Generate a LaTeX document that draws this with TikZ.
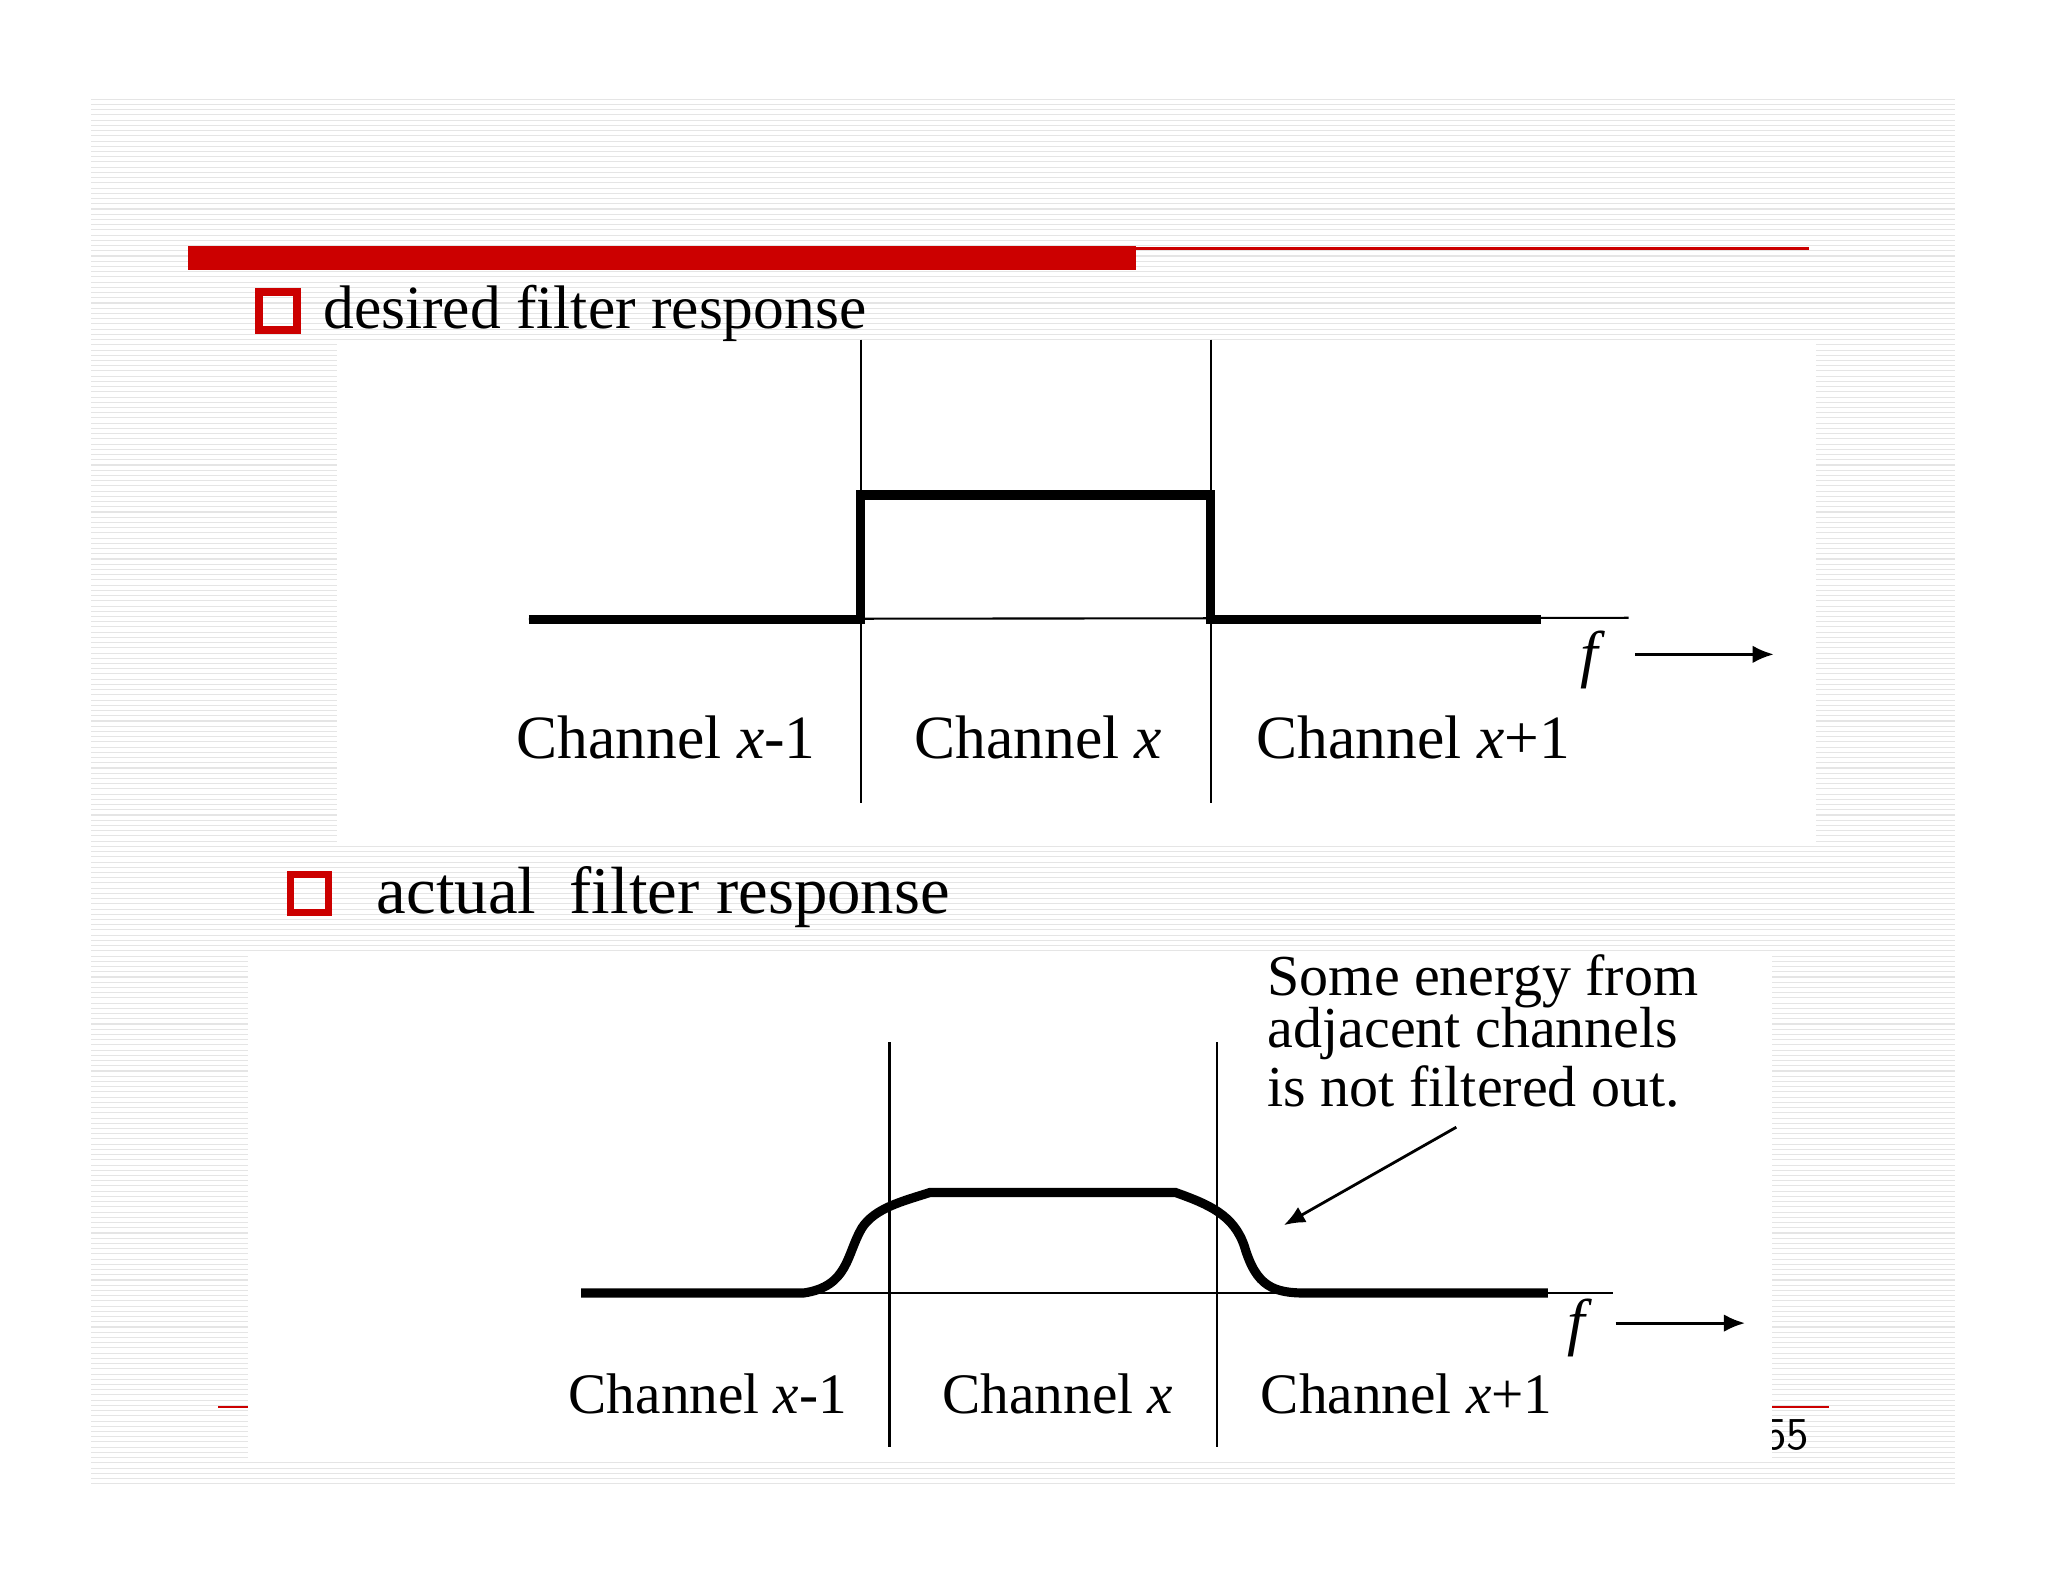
\documentclass[tikz,border=0pt]{standalone}
\usepackage{fontspec}
\setmainfont{Liberation Serif}
\usetikzlibrary{positioning, arrows.meta}
\begin{document}
\begin{tikzpicture}[x=0.01306cm, y=-0.01306cm,
    thick line/.style={line width=2.6pt, line join=miter},
    thin line/.style={line width=0.6pt},
    chan/.style={font=\fontsize{17.5}{20}\selectfont, inner sep=0pt},
    chanb/.style={font=\fontsize{16.3}{19}\selectfont, inner sep=0pt},
    head/.style={font=\fontsize{17.5}{20}\selectfont, anchor=west, inner sep=0pt},
    bullet/.style={draw=red!80!black, line width=2.2pt, minimum size=0.38cm, inner sep=0pt},
    note/.style={font=\fontsize{16.5}{19}\selectfont, anchor=west, inner sep=0pt},
    farrow/.style={-{Latex[length=6pt,width=5pt]}, line width=0.8pt}]

    %--------------------%
    % Page
    %--------------------%
    \useasboundingbox (0,0) rectangle (1568,1210);
    \fill[white] (0,0) rectangle (1568,1210);
    \foreach \y in {76,80,...,1136}
        \draw[black!10, line width=0.3pt] (70,\y) -- (1497,\y);
    \fill[red!80!black] (144,188) rectangle (870,207);
    \draw[red!80!black, line width=0.8pt] (870,190) -- (1385,190);
    \draw[red!80!black, line width=0.6pt] (167,1077) -- (190,1077);
    \draw[red!80!black, line width=0.6pt] (1357,1077) -- (1400,1077);
    \node[font=\fontsize{13}{15}\selectfont\sffamily] (page) at (1368,1099) {55};
    \fill[white] (258,262) rectangle (1390,645);
    \fill[white] (190,730) rectangle (1357,1118);

    %--------------------%
    % Headings
    %--------------------%
    \node[bullet] (b1) at (213,238) {};
    \node[head] (h1) at (247,240) {desired filter response};
    \node[bullet] (b2) at (237,684) {};
    \node[head, font=\fontsize{19}{22}\selectfont] (h2) at (288,687) {actual\ \ filter response};

    %--------------------%
    % Desired response
    %--------------------%
    \coordinate (ta) at (405,474);
    \coordinate (tb) at (1247,473);
    \draw[thin line] (ta) -- (tb);
    \draw[thin line] (659,260) -- (659,615);
    \draw[thin line] (927,260) -- (927,615);
    \draw[thick line] (ta) -- (659,474) -- (659,379) -- (927,379) -- (927,474) -- (1180,474);
    \node[chan] (c1) at (510,565) {Channel \textit{x}-1};
    \node[chan] (c2) at (795,565) {Channel \textit{x}};
    \node[chan] (c3) at (1082,565) {Channel \textit{x}+1};
    \node[chan, font=\fontsize{18}{20}\selectfont\itshape] (f1) at (1217,505) {f};
    \coordinate (f1e) at (1358,501);
    \draw[farrow] (1252,501) -- (f1e);

    %--------------------%
    % Actual response
    %--------------------%
    \coordinate (ba) at (445,990);
    \coordinate (bb) at (1235,990);
    \draw[thin line] (ba) -- (bb);
    \draw[thin line] (681,798) -- (681,1108);
    \draw[thin line] (932,798) -- (932,1108);
    \draw[thick line] (ba) -- (615,990)
        .. controls (650,985) and (648,960) .. (660,940)
        .. controls (670,925) and (690,920) .. (712,913)
        -- (900,913)
        .. controls (925,922) and (945,930) .. (953,955)
        .. controls (962,985) and (975,990) .. (1000,990)
        -- (1185,990);
    \node[chanb] (d1) at (542,1067) {Channel \textit{x}-1};
    \node[chanb] (d2) at (810,1067) {Channel \textit{x}};
    \node[chanb] (d3) at (1077,1067) {Channel \textit{x}+1};
    \node[chan, font=\fontsize{18}{20}\selectfont\itshape] (f2) at (1207,1017) {f};
    \coordinate (f2e) at (1336,1013);
    \draw[farrow] (1237,1013) -- (f2e);

    % note and pointer
    \node[note] (n1) at (970,751) {Some energy from};
    \node[note] (n2) at (970,791) {adjacent channels};
    \node[note] (n3) at (970,832) {is not filtered out.};
    \coordinate (tip) at (983,938);
    \draw[farrow] (1115,863) -- (tip);
\end{tikzpicture}
\end{document}
